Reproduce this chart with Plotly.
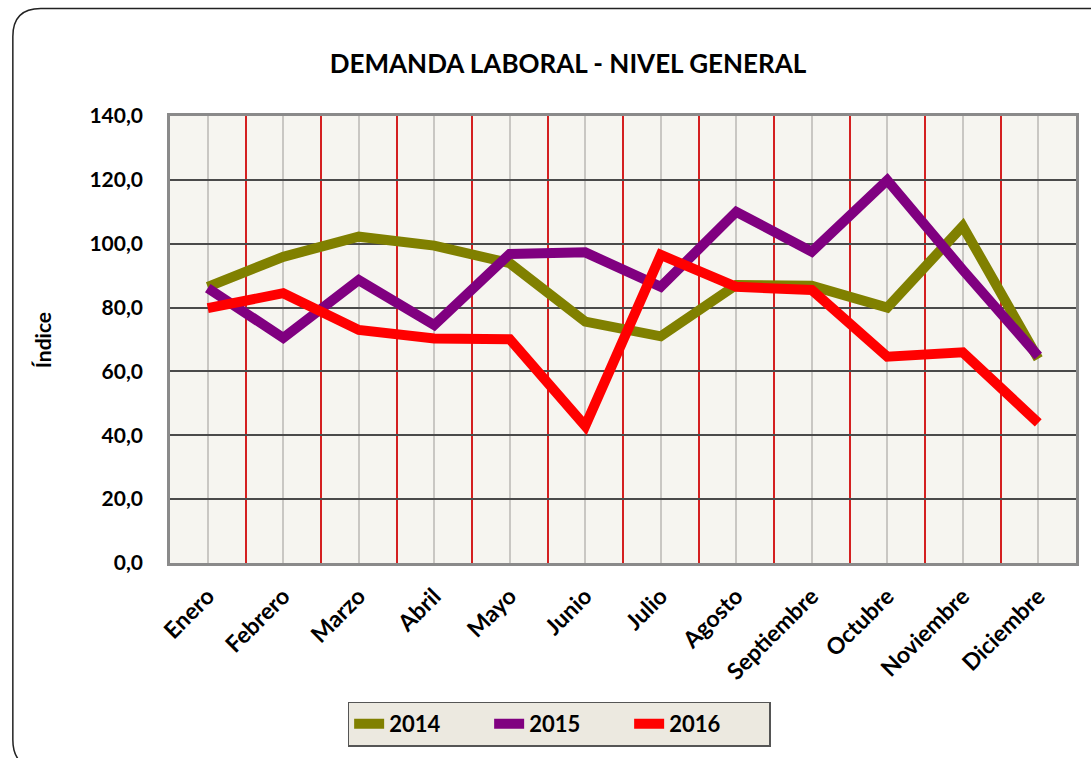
import plotly.graph_objects as go

meses = ["Enero", "Febrero", "Marzo", "Abril", "Mayo", "Junio", "Julio",
         "Agosto", "Septiembre", "Octubre", "Noviembre", "Diciembre"]
serie_2014 = [86.5, 95.9, 102.2, 99.4, 93.9, 75.6, 71.0, 87.1, 86.8, 80.0, 105.5, 64.0]
serie_2015 = [86.1, 70.5, 88.6, 74.5, 96.8, 97.3, 86.5, 110.0, 97.5, 119.9, 91.8, 64.8]
serie_2016 = [79.8, 84.5, 73.0, 70.3, 70.1, 42.9, 96.5, 86.5, 85.5, 64.6, 66.0, 43.9]
ticks_y = [0, 20, 40, 60, 80, 100, 120, 140]
etiquetas_y = ["0,0", "20,0", "40,0", "60,0", "80,0", "100,0", "120,0", "140,0"]

W, H = 1091, 758
ML, MR, MT, MB = 170, 13, 116, 195
PW, PH = W - ML - MR, H - MT - MB


def px(x):
    return (x - ML) / PW


def py(y):
    return 1 - (y - MT) / PH


FONT = "Lato"
x_idx = list(range(len(meses)))

fig = go.Figure()
for nombre, valores, color in [("2014", serie_2014, "#808000"),
                               ("2015", serie_2015, "#800080"),
                               ("2016", serie_2016, "#FF0000")]:
    fig.add_trace(go.Scatter(
        x=x_idx, y=valores, name=f"<b>{nombre}</b>", mode="lines",
        line=dict(color=color, width=10),
        hoverinfo="skip",
    ))

# rounded frame around the chart
L, T, R, B, r = 12.5, 8.5, 1118, 768, 28
frame = (f"M {px(L)},{py(T + r)} Q {px(L)},{py(T)} {px(L + r)},{py(T)} "
         f"L {px(R - r)},{py(T)} Q {px(R)},{py(T)} {px(R)},{py(T + r)} "
         f"L {px(R)},{py(B - r)} Q {px(R)},{py(B)} {px(R - r)},{py(B)} "
         f"L {px(L + r)},{py(B)} Q {px(L)},{py(B)} {px(L)},{py(B - r)} Z")

fig.update_layout(
    width=W, height=H,
    margin=dict(l=ML, r=MR, t=MT, b=MB),
    paper_bgcolor="white",
    plot_bgcolor="#F6F5F0",
    font=dict(family=FONT, color="black"),
    title=dict(text="<b>DEMANDA LABORAL - NIVEL GENERAL</b>",
               x=568 / W, xanchor="center", y=1 - 64 / H, yanchor="middle",
               yref="container", font=dict(size=26, family=FONT, color="black")),
    showlegend=True,
    legend=dict(orientation="h", x=px(560), xanchor="center",
                y=py(724), yanchor="middle",
                bgcolor="#ECE9E0", bordercolor="#555555", borderwidth=1.5,
                font=dict(size=22, family=FONT, color="black"),
                itemwidth=30, traceorder="normal",
                entrywidth=95, entrywidthmode="pixels"),
    shapes=[dict(type="path", path=frame, xref="paper", yref="paper",
                 line=dict(color="#222222", width=1.5), layer="below")],
    annotations=[dict(text="<b>Índice</b>", x=px(42), y=py(340),
                      xref="paper", yref="paper", textangle=-90,
                      xanchor="center", yanchor="middle",
                      showarrow=False, font=dict(size=21, family=FONT, color="black"))],
)

fig.update_xaxes(
    range=[-0.5, 11.5], tickmode="array", tickvals=x_idx,
    ticktext=[f"<b>{m}</b>" for m in meses], tickangle=-45,
    tickfont=dict(size=23, family=FONT, color="black"),
    ticklabelstandoff=8,
    showgrid=True, gridcolor="#C9C7C3", gridwidth=2,
    minor=dict(tickmode="array", tickvals=[i + 0.5 for i in range(11)],
               showgrid=True, gridcolor="#D42020", gridwidth=1.6),
    showline=True, linecolor="#8A8A8A", linewidth=2.5, mirror=True,
    zeroline=False, ticks="", fixedrange=True,
)
fig.update_yaxes(
    range=[0, 140], tickmode="array", tickvals=ticks_y,
    ticktext=[f"<b>{t}</b>" for t in etiquetas_y],
    tickfont=dict(size=21, family=FONT, color="black"),
    ticklabelstandoff=20,
    showgrid=True, gridcolor="#4A4A4A", gridwidth=2,
    showline=True, linecolor="#8A8A8A", linewidth=2.5, mirror=True,
    zeroline=False, ticks="", fixedrange=True,
)

fig.write_html("out.html")
